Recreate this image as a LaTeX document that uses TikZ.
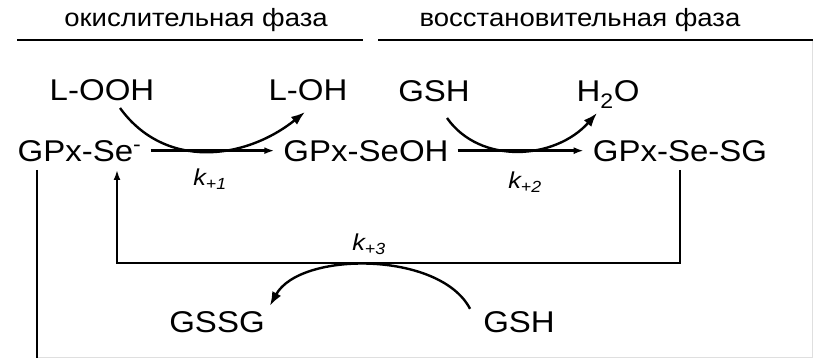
\documentclass[tikz,border=0pt]{standalone}
\usepackage{fontspec}
\setmainfont{Liberation Sans}[FakeStretch=1.1]
\usetikzlibrary{arrows.meta,positioning}

\begin{document}
\begin{tikzpicture}[
    x=1pt,y=-1pt,
    chem/.style={inner sep=0pt,anchor=base,font=\fontsize{30}{34}\selectfont},
    head/.style={inner sep=0pt,anchor=base,font=\fontsize{25}{30}\selectfont},
    rate/.style={inner sep=0pt,font=\fontsize{23}{26}\selectfont\itshape},
    arrow/.style={-{Latex[length=10pt,width=7pt]},line width=2.4pt,shorten <=9pt,shorten >=9pt},
    wire/.style={line width=2.4pt,shorten <=9pt},
    curvy/.style={-{Latex[length=14pt,width=10pt]},line width=2.4pt},
    rule/.style={line width=2.6pt}
    ]
    \useasboundingbox (0,0) rectangle (813,358);

    % phases
    \node[head] (oxid) at (196,27) {окислительная фаза};
    \node[head] (redu) at (580,27) {восстановительная фаза};
    \draw[rule] (17,40) -- (363,40);
    \draw[rule] (378,40) -- (813,40);
    \draw[gray!25,line width=0.8pt] (812,41) -- (812,357) -- (37,357);

    % main row
    \node[chem] (se) at (79.5,161) {GPx-Se\textsuperscript{-}};
    \node[chem] (seoh) at (366,161) {GPx-SeOH};
    \node[chem] (sesg) at (680,161) {GPx-Se-SG};

    \node[chem] (looh) at (102,101) {L-OOH};
    \node[chem] (loh) at (308,101) {L-OH};
    \node[chem] (gsh) at (434,102) {GSH};
    \node[chem] (water) at (608,102) {H\textsubscript{2}O};

    \node[chem] (gssg) at (217,332) {GSSG};
    \node[chem] (gshb) at (519,332) {GSH};

    \node[rate] (k1) at (210,179) {k\textsubscript{+1}};
    \node[rate] (k2) at (525,182) {k\textsubscript{+2}};
    \node[rate] (k3) at (369,244) {k\textsubscript{+3}};

    \draw[arrow] (se.east) -- (seoh.west);
    \draw[arrow] (seoh.east) -- (sesg.west);

    \draw[curvy] ([xshift=18pt,yshift=-7pt]looh.base) .. controls (165,170) and (245,160) .. ([xshift=-3pt,yshift=-11pt]loh.base);
    \draw[curvy] ([xshift=13pt,yshift=-16pt]gsh.base) .. controls (480,165) and (555,160) .. ([xshift=-11pt,yshift=-11pt]water.base);

    % back to GPx-Se
    \coordinate (loop) at (117,263);
    \draw[arrow] (sesg.base) |- (loop) -- (loop |- se.base);
    \draw[curvy] ([xshift=-13pt,yshift=2pt]gshb.north west) .. controls (440,251) and (300,251) .. ([xshift=5pt,yshift=5pt]gssg.north east);

    \coordinate (exit) at (37,358);
    \draw[wire] (se.base -| exit) -- (exit);

  \end{tikzpicture}
\end{document}
